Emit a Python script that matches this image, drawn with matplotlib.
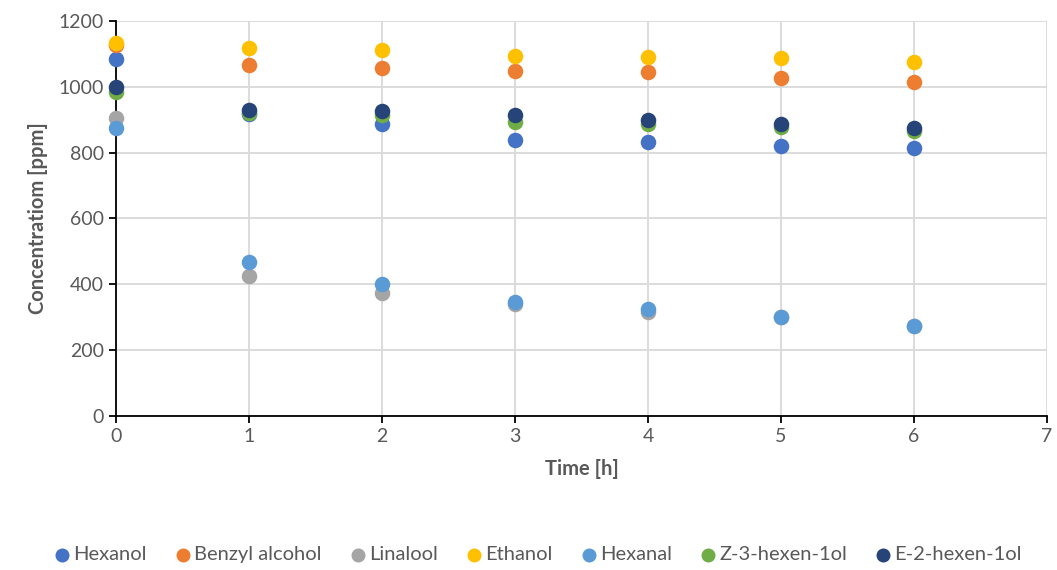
import matplotlib.pyplot as plt

plt.rcParams['font.family'] = ['Lato', 'DejaVu Sans']

time_h = [0, 1, 2, 3, 4, 5, 6]
hexanol = [1084, 918, 886, 838, 831, 820, 813]
benzyl_alcohol = [1127, 1066, 1056, 1048, 1044, 1028, 1014]
linalool = [906, 425, 373, 340, 315, 300, 272]
ethanol = [1133, 1117, 1112, 1095, 1092, 1089, 1075]
hexanal = [874, 469, 401, 347, 325, 302, 273]
z3_hexenol = [985, 920, 914, 894, 886, 877, 866]
e2_hexenol = [1000, 930, 928, 914, 899, 886, 874]

series = [
    ('Hexanol', hexanol, '#4472C4'),
    ('Benzyl alcohol', benzyl_alcohol, '#ED7D31'),
    ('Linalool', linalool, '#A5A5A5'),
    ('Ethanol', ethanol, '#FFC000'),
    ('Hexanal', hexanal, '#5B9BD5'),
    ('Z-3-hexen-1ol', z3_hexenol, '#70AD47'),
    ('E-2-hexen-1ol', e2_hexenol, '#264478'),
]

fig = plt.figure(figsize=(10.57, 5.7), dpi=100)
ax = fig.add_axes([0.1097, 0.2702, 0.8808, 0.693])

for name, vals, col in series:
    ax.scatter(time_h, vals, s=125, color=col, label=name, zorder=5, linewidths=0, clip_on=False)

ax.set_xlim(0, 7)
ax.set_ylim(0, 1200)
ax.set_xticks(range(0, 8))
ax.set_yticks(range(0, 1201, 200))
ax.grid(True, color='#D9D9D9', linewidth=1.3, zorder=0)
ax.set_axisbelow(True)
for s in ['top', 'right']:
    ax.spines[s].set_visible(False)
for s in ['left', 'bottom']:
    ax.spines[s].set_color('black')
    ax.spines[s].set_linewidth(1.3)
    ax.spines[s].set_zorder(4)
ax.tick_params(axis='both', colors='black', labelcolor='#595959', labelsize=14,
               length=5, width=1.3)
ax.set_xlabel('Time [h]', fontsize=14.5, fontweight='bold', color='#595959', labelpad=10)
ax.set_ylabel('Concentratiom [ppm]', fontsize=14.5, fontweight='bold', color='#595959', labelpad=8)

leg = fig.legend(loc='center', bbox_to_anchor=(0.508, 0.027), ncol=7, frameon=False,
                 fontsize=14.5, handletextpad=0.05, columnspacing=1.3,
                 markerscale=0.9, handlelength=1.0)
for t in leg.get_texts():
    t.set_color('#595959')

fig.savefig('out.png', dpi=100)
